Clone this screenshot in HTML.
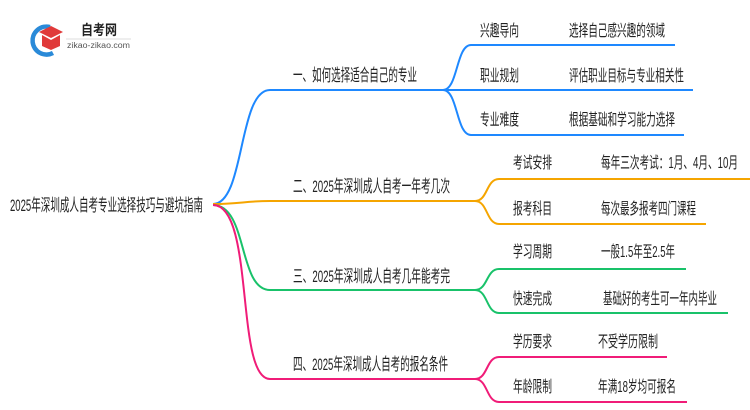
<!DOCTYPE html>
<html><head><meta charset="utf-8"><style>
html,body{margin:0;padding:0;background:#fff;}
svg{display:block;}
text{font-family:"Liberation Sans","Noto Sans CJK SC",sans-serif;fill:#222;}
</style></head><body>
<svg width="750" height="410" viewBox="0 0 750 410" xmlns="http://www.w3.org/2000/svg">
<!-- logo -->
<path d="M50 27 A14 14 0 1 0 53 53" stroke="#2a8ad8" stroke-width="4.5" fill="none"/>
<polygon points="39,32 51,26 63,32 51,38" fill="#e03a3a"/>
<path d="M42 35 L42 46 L51 50 L60 46 L60 35 L51 40 Z" fill="#e03a3a"/>
<text x="81" y="35" font-size="14" font-weight="bold" textLength="36" lengthAdjust="spacingAndGlyphs">自考网</text>
<line x1="66" y1="39" x2="131" y2="39" stroke="#ddd" stroke-width="1"/>
<text x="67" y="48" font-size="8" style="fill:#555" textLength="63" lengthAdjust="spacingAndGlyphs">zikao-zikao.com</text>

<g fill="none" stroke-width="2">
<path d="M213 204 C245 204 238 90 270 90 L443 90" stroke="#1e88ff"/>
<path d="M443 90 C458 90 456 45 471 45 L675 45" stroke="#1e88ff"/>
<path d="M443 90 L693 90" stroke="#1e88ff"/>
<path d="M443 90 C458 90 456 135 471 135 L684 135" stroke="#1e88ff"/>
<path d="M213 204 C240 204 245 201 270 201 L475 201" stroke="#f5a500"/>
<path d="M475 201 C488 201 486 179 499 179 L750 179" stroke="#f5a500"/>
<path d="M475 201 C488 201 486 224 499 224 L706 224" stroke="#f5a500"/>
<path d="M213 205 C248 205 238 290 270 290 L475 290" stroke="#19c26a"/>
<path d="M475 290 C488 290 486 269 499 269 L686 269" stroke="#19c26a"/>
<path d="M475 290 C488 290 486 313 499 313 L728 313" stroke="#19c26a"/>
<path d="M213 205 C255 205 235 379 270 379 L475 379" stroke="#f01c78"/>
<path d="M475 379 C488 379 486 357 499 357 L667 357" stroke="#f01c78"/>
<path d="M475 379 C488 379 486 402 499 402 L687 402" stroke="#f01c78"/>
</g>

<text x="10" y="211" font-size="17" textLength="193" lengthAdjust="spacingAndGlyphs">2025年深圳成人自考专业选择技巧与避坑指南</text>

<text x="293" y="81" font-size="17" textLength="124" lengthAdjust="spacingAndGlyphs">一、如何选择适合自己的专业</text>
<text x="293" y="192" font-size="17" textLength="157" lengthAdjust="spacingAndGlyphs">二、2025年深圳成人自考一年考几次</text>
<text x="293" y="282" font-size="17" textLength="157" lengthAdjust="spacingAndGlyphs">三、2025年深圳成人自考几年能考完</text>
<text x="293" y="370" font-size="17" textLength="155" lengthAdjust="spacingAndGlyphs">四、2025年深圳成人自考的报名条件</text>

<g font-size="16">
<text x="480" y="36" textLength="39" lengthAdjust="spacingAndGlyphs">兴趣导向</text>
<text x="569" y="36" textLength="96" lengthAdjust="spacingAndGlyphs">选择自己感兴趣的领域</text>
<text x="480" y="81" textLength="39" lengthAdjust="spacingAndGlyphs">职业规划</text>
<text x="569" y="81" textLength="115" lengthAdjust="spacingAndGlyphs">评估职业目标与专业相关性</text>
<text x="480" y="125" textLength="39" lengthAdjust="spacingAndGlyphs">专业难度</text>
<text x="569" y="125" textLength="106" lengthAdjust="spacingAndGlyphs">根据基础和学习能力选择</text>

<text x="513" y="168" textLength="39" lengthAdjust="spacingAndGlyphs">考试安排</text>
<text x="601" y="168" textLength="137" lengthAdjust="spacingAndGlyphs">每年三次考试：1月、4月、10月</text>
<text x="513" y="214" textLength="39" lengthAdjust="spacingAndGlyphs">报考科目</text>
<text x="601" y="214" textLength="95" lengthAdjust="spacingAndGlyphs">每次最多报考四门课程</text>

<text x="513" y="257" textLength="39" lengthAdjust="spacingAndGlyphs">学习周期</text>
<text x="601" y="257" textLength="74" lengthAdjust="spacingAndGlyphs">一般1.5年至2.5年</text>
<text x="513" y="304" textLength="39" lengthAdjust="spacingAndGlyphs">快速完成</text>
<text x="603" y="304" textLength="114" lengthAdjust="spacingAndGlyphs">基础好的考生可一年内毕业</text>

<text x="513" y="347" textLength="39" lengthAdjust="spacingAndGlyphs">学历要求</text>
<text x="598" y="347" textLength="60" lengthAdjust="spacingAndGlyphs">不受学历限制</text>
<text x="513" y="392" textLength="39" lengthAdjust="spacingAndGlyphs">年龄限制</text>
<text x="598" y="392" textLength="78" lengthAdjust="spacingAndGlyphs">年满18岁均可报名</text>
</g>
</svg>
</body></html>
